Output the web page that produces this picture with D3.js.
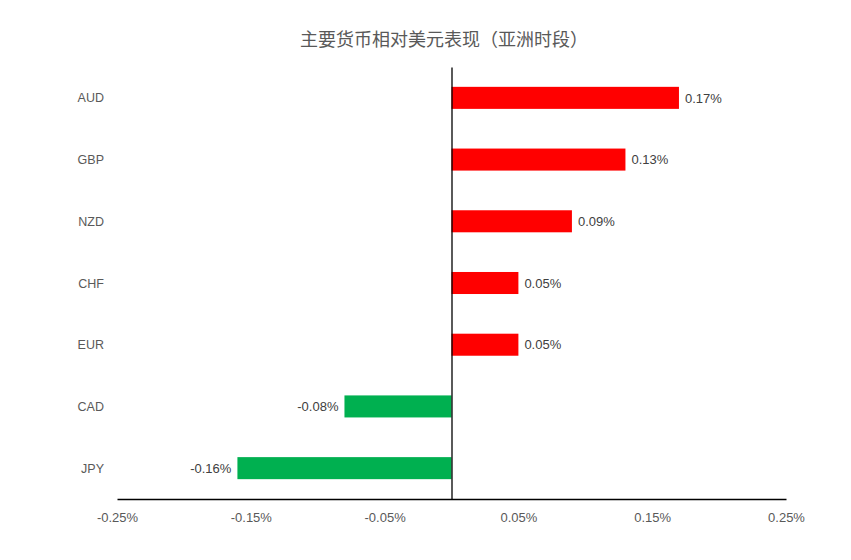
<!DOCTYPE html>
<html>
<head>
<meta charset="utf-8">
<script src="https://cdn.jsdelivr.net/npm/d3@7"></script>
<style>
  html, body { margin: 0; padding: 0; background: #fff; }
  svg { display: block; }
</style>
</head>
<body>
<svg id="chart" width="851" height="560"></svg>
<script>
const title = "主要货币相对美元表现（亚洲时段）";
const categories = ["AUD", "GBP", "NZD", "CHF", "EUR", "CAD", "JPY"];
const values = [0.17, 0.13, 0.09, 0.05, 0.05, -0.08, -0.16];
const tickValues = [-0.25, -0.15, -0.05, 0.05, 0.15, 0.25];

const svg = d3.select("#chart");
const plotLeft = 117, plotRight = 786, plotTop = 67, plotBottom = 499;

const x = d3.scaleLinear().domain([-0.25, 0.25]).range([plotLeft, plotRight]);
const y = d3.scaleBand().domain(categories).range([plotTop, plotBottom])
  .paddingInner(0.643).paddingOuter(0.3215);

const locale = d3.formatLocale({ decimal: ".", thousands: ",", grouping: [3], currency: ["", ""], minus: "-" });
const fmt = v => locale.format(".2f")(v) + "%";
const latin = "'Liberation Sans', Arial, sans-serif";

svg.append("text")
  .attr("x", 444).attr("y", 46)
  .attr("text-anchor", "middle")
  .attr("font-family", "'Noto Sans CJK SC', sans-serif")
  .attr("font-size", 18)
  .attr("fill", "#595959")
  .text(title);

const data = categories.map((c, i) => ({ c, v: values[i] }));

svg.append("g").selectAll("rect").data(data).join("rect")
  .attr("x", d => x(Math.min(0, d.v)))
  .attr("width", d => Math.abs(x(d.v) - x(0)))
  .attr("y", d => y(d.c))
  .attr("height", y.bandwidth())
  .attr("fill", d => d.v >= 0 ? "#FF0000" : "#00B050");

// data labels
svg.append("g").selectAll("text").data(data).join("text")
  .attr("x", d => d.v >= 0 ? x(d.v) + 6 : x(d.v) - 6)
  .attr("y", d => y(d.c) + y.bandwidth() / 2)
  .attr("dy", "0.36em")
  .attr("text-anchor", d => d.v >= 0 ? "start" : "end")
  .attr("font-family", latin)
  .attr("font-size", 13)
  .attr("fill", "#404040")
  .text(d => fmt(d.v));

// category labels
svg.append("g").selectAll("text").data(categories).join("text")
  .attr("x", 104)
  .attr("y", d => y(d) + y.bandwidth() / 2)
  .attr("dy", "0.36em")
  .attr("text-anchor", "end")
  .attr("font-family", latin)
  .attr("font-size", 12.5)
  .attr("fill", "#595959")
  .text(d => d);

// x axis
const xAxis = d3.axisBottom(x).tickValues(tickValues).tickSize(0).tickPadding(0)
  .tickFormat(fmt);
const gx = svg.append("g").attr("transform", `translate(0,${plotBottom})`).call(xAxis);
gx.select(".domain").attr("stroke", "#000").attr("stroke-width", 1.3);
gx.selectAll("text")
  .attr("y", 23)
  .attr("dy", 0)
  .attr("font-family", latin)
  .attr("font-size", 13)
  .attr("fill", "#595959");

// zero vertical axis
const yAxis = d3.axisLeft(y).tickSize(0).tickFormat("");
const gy = svg.append("g").attr("transform", `translate(${x(0)},0)`).call(yAxis);
gy.select(".domain").attr("stroke", "#000").attr("stroke-width", 1.3);
</script>
</body>
</html>
